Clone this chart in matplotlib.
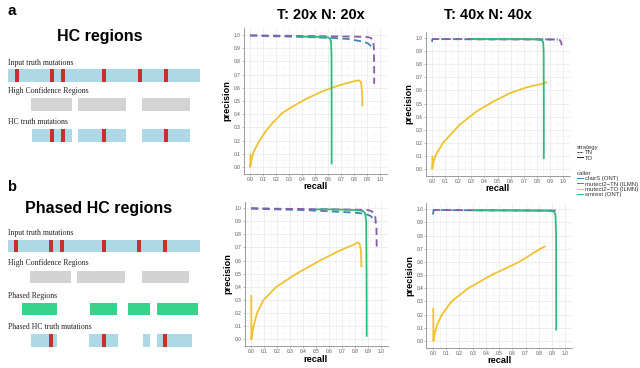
import numpy as np
import matplotlib
matplotlib.use("Agg")
import matplotlib.pyplot as plt
from matplotlib.patches import Rectangle
from matplotlib.lines import Line2D

plt.rcParams['font.family'] = ['Liberation Sans', 'DejaVu Sans']

# ---------------- data ----------------
callers = ["clairS (ONT)", "mutect2\u2212TN (ILMN)", "mutect2\u2212TO (ILMN)", "smrest (ONT)"]
caller_colors = ["#3E86B0", "#8A5BAA", "#F0C232", "#2CBB7C"]
caller_strategy = ["TN", "TN", "TO", "TO"]
strategies = ["TN", "TO"]
panel_titles = ["T: 20x N: 20x", "T: 40x N: 40x"]
tick_values = [0.0, 0.1, 0.2, 0.3, 0.4, 0.5, 0.6, 0.7, 0.8, 0.9, 1.0]

# HC regions, 20x
hc20_clairs_recall = [0.0, 0.1, 0.2, 0.3, 0.4, 0.5, 0.64, 0.75, 0.87, 0.91, 0.93, 0.94]
hc20_clairs_precision = [0.995, 0.993, 0.99, 0.988, 0.985, 0.982, 0.977, 0.97, 0.95, 0.935, 0.915, 0.90]
hc20_tn_recall = [0.0, 0.2, 0.4, 0.6, 0.8, 0.9, 0.93, 0.948, 0.953, 0.955, 0.955]
hc20_tn_precision = [0.998, 0.995, 0.993, 0.99, 0.988, 0.985, 0.978, 0.96, 0.9, 0.75, 0.63]
hc20_to_recall = [0.004, 0.002, 0.01, 0.03, 0.07, 0.12, 0.17, 0.25, 0.33, 0.43, 0.56, 0.69, 0.82, 0.84, 0.855, 0.862, 0.865]
hc20_to_precision = [0.1, 0.0, 0.05, 0.12, 0.195, 0.27, 0.33, 0.41, 0.46, 0.515, 0.575, 0.62, 0.655, 0.655, 0.64, 0.56, 0.46]
hc20_smrest_recall = [0.36, 0.45, 0.55, 0.6, 0.615, 0.623, 0.627, 0.628, 0.628]
hc20_smrest_precision = [0.988, 0.987, 0.985, 0.982, 0.975, 0.95, 0.85, 0.4, 0.02]

# HC regions, 40x
hc40_clairs_recall = [0.0, 0.002, 0.01, 0.2, 0.4, 0.6, 0.8, 0.9, 0.96]
hc40_clairs_precision = [0.97, 0.99, 0.992, 0.991, 0.99, 0.99, 0.99, 0.989, 0.988]
hc40_tn_recall = [0.0, 0.2, 0.4, 0.6, 0.8, 0.96, 0.975, 0.985, 0.99]
hc40_tn_precision = [0.992, 0.992, 0.991, 0.99, 0.99, 0.989, 0.985, 0.97, 0.945]
hc40_to_recall = [0.003, 0.002, 0.01, 0.03, 0.084, 0.21, 0.34, 0.466, 0.59, 0.72, 0.85, 0.87, 0.875]
hc40_to_precision = [0.1, 0.0, 0.05, 0.11, 0.2, 0.337, 0.44, 0.514, 0.577, 0.623, 0.653, 0.662, 0.655]
hc40_smrest_recall = [0.3, 0.5, 0.7, 0.8, 0.835, 0.848, 0.852, 0.853, 0.853]
hc40_smrest_precision = [0.993, 0.993, 0.992, 0.99, 0.985, 0.97, 0.9, 0.5, 0.075]

# Phased HC regions, 20x
ph20_clairs_recall = [0.0, 0.2, 0.4, 0.6, 0.8, 0.88, 0.92, 0.945, 0.955]
ph20_clairs_precision = [0.995, 0.99, 0.985, 0.975, 0.965, 0.955, 0.94, 0.915, 0.89]
ph20_tn_recall = [0.0, 0.2, 0.4, 0.6, 0.8, 0.9, 0.93, 0.955, 0.965, 0.967]
ph20_tn_precision = [1.0, 0.995, 0.993, 0.99, 0.988, 0.985, 0.975, 0.94, 0.85, 0.70]
ph20_to_recall = [0.002, 0.003, 0.01, 0.02, 0.046, 0.097, 0.195, 0.35, 0.53, 0.66, 0.737, 0.79, 0.815, 0.835, 0.845, 0.85]
ph20_to_precision = [0.337, 0.0, 0.05, 0.1, 0.2, 0.3, 0.4, 0.5, 0.6, 0.665, 0.7, 0.72, 0.737, 0.73, 0.68, 0.55]
ph20_smrest_recall = [0.5, 0.6, 0.7, 0.8, 0.86, 0.878, 0.886, 0.889, 0.89]
ph20_smrest_precision = [0.99, 0.99, 0.988, 0.985, 0.978, 0.96, 0.9, 0.5, 0.02]

# Phased HC regions, 40x
ph40_clairs_recall = [0.0, 0.003, 0.02, 0.3, 0.6, 0.9, 0.93]
ph40_clairs_precision = [0.96, 0.99, 0.995, 0.992, 0.991, 0.99, 0.99]
ph40_tn_recall = [0.0, 0.3, 0.6, 0.9, 0.93]
ph40_tn_precision = [0.995, 0.993, 0.992, 0.99, 0.99]
ph40_to_recall = [0.002, 0.003, 0.01, 0.03, 0.067, 0.14, 0.265, 0.44, 0.65, 0.81, 0.85]
ph40_to_precision = [0.25, 0.0, 0.05, 0.12, 0.2, 0.3, 0.4, 0.5, 0.6, 0.7, 0.72]
ph40_smrest_recall = [0.3, 0.5, 0.7, 0.85, 0.91, 0.925, 0.93, 0.931]
ph40_smrest_precision = [0.993, 0.992, 0.991, 0.99, 0.985, 0.96, 0.8, 0.08]

panels = [
    [(hc20_clairs_recall, hc20_clairs_precision), (hc20_tn_recall, hc20_tn_precision),
     (hc20_to_recall, hc20_to_precision), (hc20_smrest_recall, hc20_smrest_precision)],
    [(hc40_clairs_recall, hc40_clairs_precision), (hc40_tn_recall, hc40_tn_precision),
     (hc40_to_recall, hc40_to_precision), (hc40_smrest_recall, hc40_smrest_precision)],
    [(ph20_clairs_recall, ph20_clairs_precision), (ph20_tn_recall, ph20_tn_precision),
     (ph20_to_recall, ph20_to_precision), (ph20_smrest_recall, ph20_smrest_precision)],
    [(ph40_clairs_recall, ph40_clairs_precision), (ph40_tn_recall, ph40_tn_precision),
     (ph40_to_recall, ph40_to_precision), (ph40_smrest_recall, ph40_smrest_precision)],
]

# ---------------- schematic layout (pixel units) ----------------
BLUE = "#ADD8E6"
GRAY = "#D3D3D3"
GREEN = "#36D38A"
RED = "#C9302C"
schematic_a = [
    ("Input truth mutations", 63, 69, 82, [(8, 200)], BLUE, [17, 52, 63, 104, 140, 166]),
    ("High Confidence Regions", 91, 98, 111, [(31, 72), (78, 126), (142, 190)], GRAY, []),
    ("HC truth mutations", 122, 129, 142, [(32, 72), (78, 126), (142, 190)], BLUE, [52, 63, 104, 166]),
]
schematic_b = [
    ("Input truth mutations", 233, 240, 252, [(8, 200)], BLUE, [16, 51, 62, 104, 139, 165]),
    ("High Confidence Regions", 263, 271, 283, [(30, 71), (77, 125), (142, 189)], GRAY, []),
    ("Phased Regions", 296, 303, 315, [(22, 57), (90, 117), (128, 150), (157, 198)], GREEN, []),
    ("Phased HC truth mutations", 327, 334, 347, [(31, 57), (89, 118), (143, 150), (157, 192)], BLUE, [51, 104, 165]),
]

W, H = 640, 368
fig = plt.figure(figsize=(6.4, 3.68), dpi=100)
bg = fig.add_axes([0, 0, 1, 1])
bg.set_xlim(0, W)
bg.set_ylim(H, 0)
bg.axis('off')

def draw_schematic(rows):
    for label, ly, top, bot, spans, col, marks in rows:
        bg.text(8, ly, label, fontsize=5.6, family=['Liberation Serif', 'DejaVu Serif'],
                color="#222222", ha='left', va='center')
        for x0, x1 in spans:
            bg.add_patch(Rectangle((x0, top), x1 - x0, bot - top, facecolor=col, edgecolor='none'))
        for m in marks:
            bg.add_patch(Rectangle((m - 1.8, top), 3.6, bot - top, facecolor=RED, edgecolor='none'))

draw_schematic(schematic_a)
draw_schematic(schematic_b)
bg.text(12, 11, "a", fontsize=11, fontweight='bold', ha='center', va='center')
bg.text(12, 187, "b", fontsize=10.5, fontweight='bold', ha='center', va='center')
bg.text(100, 37, "HC regions", fontsize=11.5, fontweight='bold', ha='center', va='center')
bg.text(99, 208, "Phased HC regions", fontsize=11.5, fontweight='bold', ha='center', va='center')
bg.text(321, 15, panel_titles[0], fontsize=10.4, fontweight='bold', ha='center', va='center')
bg.text(488, 15, panel_titles[1], fontsize=10.4, fontweight='bold', ha='center', va='center')

def px_rect(l, r, t, b):
    return [l / W, 1 - b / H, (r - l) / W, (b - t) / H]

rects = [(243.5, 386.5, 28.4, 173.6), (425.5, 569.6, 31.5, 175.5),
         (244.5, 387.5, 201.5, 345.9), (426.4, 572.0, 202.7, 347.6)]

dash_style = {"TN": (0, (4, 2.4)), "TO": "-"}
for (l, r, t, b), curves in zip(rects, panels):
    ax = fig.add_axes(px_rect(l, r, t, b))
    ax.set_facecolor('white')
    ax.set_xlim(-0.05, 1.05)
    ax.set_ylim(-0.05, 1.05)
    ax.set_xticks(tick_values)
    ax.set_yticks(tick_values)
    ax.set_xticklabels([f"{v:.1f}" for v in tick_values])
    ax.set_yticklabels([f"{v:.1f}" for v in tick_values])
    ax.set_xticks(np.arange(0.05, 1.0, 0.1), minor=True)
    ax.set_yticks(np.arange(0.05, 1.0, 0.1), minor=True)
    ax.grid(True, which='major', color='#E8E8E8', lw=0.5)
    ax.grid(True, which='minor', color='#F4F4F4', lw=0.4)
    ax.set_axisbelow(True)
    for s in ['top', 'right']:
        ax.spines[s].set_visible(False)
    for s in ['left', 'bottom']:
        ax.spines[s].set_color('#8C8C8C')
        ax.spines[s].set_linewidth(0.6)
    ax.tick_params(which='major', length=1.5, width=0.4, color='#8C8C8C', pad=0.8,
                   labelsize=3.5, labelcolor='#555555')
    ax.tick_params(which='minor', length=0)
    ax.set_xlabel("recall", fontsize=6.7, fontweight='bold', labelpad=0.5)
    ax.set_ylabel("precision", fontsize=6.6, fontweight='bold', labelpad=1.5)
    for i in [0, 1, 2, 3]:
        rec, prec = curves[i]
        ax.plot(rec, prec, color=caller_colors[i], lw=1.3,
                linestyle=dash_style[caller_strategy[i]], solid_capstyle='butt',
                dash_capstyle='butt')

# legends
strat_handles = [Line2D([], [], color='#222222', lw=0.7, linestyle=(0, (2, 1))),
                 Line2D([], [], color='#222222', lw=0.7, linestyle='-')]
leg1 = fig.legend(strat_handles, strategies, title="strategy", loc='upper left',
                  bbox_to_anchor=(574 / W, 1 - 142 / H), frameon=False, fontsize=4.3,
                  title_fontsize=4.3, handlelength=1.0, handletextpad=0.4,
                  labelspacing=0.02, borderpad=0, alignment='left')
caller_handles = [Line2D([], [], color=c, lw=0.7) for c in caller_colors]
leg2 = fig.legend(caller_handles, callers, title="caller", loc='upper left',
                  bbox_to_anchor=(574 / W, 1 - 168 / H), frameon=False, fontsize=4.3,
                  title_fontsize=4.3, handlelength=1.0, handletextpad=0.4,
                  labelspacing=0.02, borderpad=0, alignment='left')
for lg in (leg1, leg2):
    for t in lg.get_texts():
        t.set_color('#333333')
    lg.get_title().set_color('#333333')

fig.savefig("out.png", dpi=100)
